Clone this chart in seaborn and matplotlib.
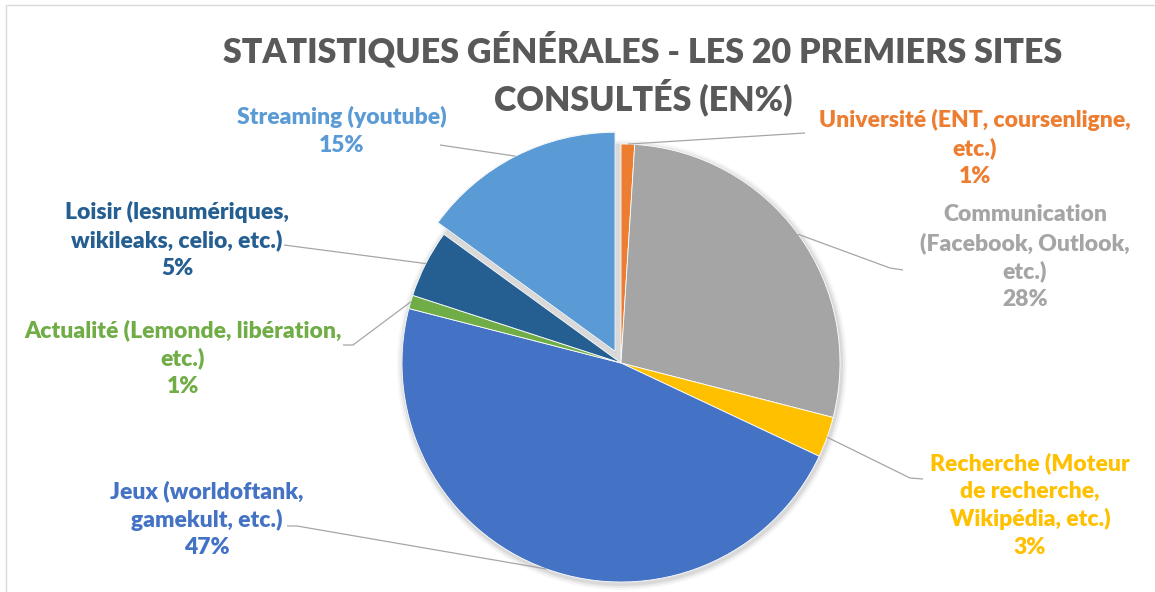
import matplotlib
matplotlib.use("Agg")
import matplotlib.pyplot as plt
import seaborn as sns
import numpy as np

# Share of visits among the 20 most consulted sites (in %)
categories = [
    "Université (ENT, coursenligne,\netc.)",
    "Communication\n(Facebook, Outlook,\netc.)",
    "Recherche (Moteur\nde recherche,\nWikipédia, etc.)",
    "Jeux (worldoftank,\ngamekult, etc.)",
    "Actualité (Lemonde, libération,\netc.)",
    "Loisir (lesnumériques,\nwikileaks, celio, etc.)",
    "Streaming (youtube)",
]
values = [1, 28, 3, 47, 1, 5, 15]
colors = ["#ED7D31", "#A5A5A5", "#FFC000", "#4472C4", "#70AD47", "#255E91", "#5B9BD5"]
title_lines = ["STATISTIQUES GÉNÉRALES - LES 20 PREMIERS SITES", "CONSULTÉS (EN%)"]

W, H = 1155, 592
sns.set_theme(style="white")
plt.rcParams["font.family"] = ["Lato", "DejaVu Sans"]

fig = plt.figure(figsize=(W / 100, H / 100), dpi=100)
ax = fig.add_axes([0, 0, 1, 1])


def px(x, y):
    """Pixel position measured from the top-left corner -> axes data."""
    return x, H - y


cx, cy = px(621, 363)
radius = 219
# pie offsets are in data units: pull the streaming slice out by ~6% of the radius
explode = [0, 0, 0, 0, 0, 0, 0.06 * radius]

# soft shadow under the pie
for k, a in [(6, 0.03), (4, 0.05), (2, 0.07)]:
    ax.add_patch(plt.Circle((cx + 1, cy - 2), radius + k, color="black", alpha=a, lw=0, zorder=0))

wedges, _ = ax.pie(
    values, colors=colors, startangle=90, counterclock=False,
    center=(cx, cy), radius=radius, explode=explode,
    wedgeprops=dict(linewidth=0.6, edgecolor="white"), frame=True,
)
ax.set_xlim(0, W)
ax.set_ylim(0, H)
ax.set_aspect("equal")
ax.axis("off")

# shadow of the pulled-out slice
sw = wedges[6]
ax.add_patch(matplotlib.patches.Wedge((sw.center[0] + 1, sw.center[1] - 2), sw.r + 3, sw.theta1, sw.theta2,
                                      color="black", alpha=0.06, lw=0, zorder=0.5))

# label block centres (px) and leader-line paths on the text side
label_pos = [(975, 148), (1025, 257), (1030, 505), (207, 519), (183, 358), (177, 240), (342, 131)]
leader_tail = [
    [(805, 133)],
    [(890, 268), (903, 270)],
    [(910, 478), (923, 479)],
    [(297, 526), (287, 526)],
    [(353, 345), (343, 345)],
    [(284, 245)],
    [(440, 145)],
]

for w, cat, val, col, pos, tail in zip(wedges, categories, values, colors, label_pos, leader_tail):
    mid = np.deg2rad((w.theta1 + w.theta2) / 2)
    ex, ey = w.center[0] + w.r * np.cos(mid), w.center[1] + w.r * np.sin(mid)
    pts = [(ex, ey)] + [px(*p) for p in tail]
    xs, ys = zip(*pts)
    ax.plot(xs, ys, color="#A6A6A6", lw=0.9, zorder=3, solid_capstyle="butt")
    ax.text(*px(*pos), f"{cat}\n{val}%", color=col, fontsize=16.5, fontweight="heavy",
            ha="center", va="center", linespacing=1.38, zorder=4)

for line, y in zip(title_lines, [50, 97]):
    ax.text(*px(643, y), line, color="#595959", fontsize=24.5, fontweight="heavy",
            ha="center", va="center")

# chart-area frame
ax.plot([6, 6, W + 5], [0, H - 5, H - 5], color="#D9D9D9", lw=1, zorder=5)

fig.savefig("out.png", dpi=100, facecolor="white")
